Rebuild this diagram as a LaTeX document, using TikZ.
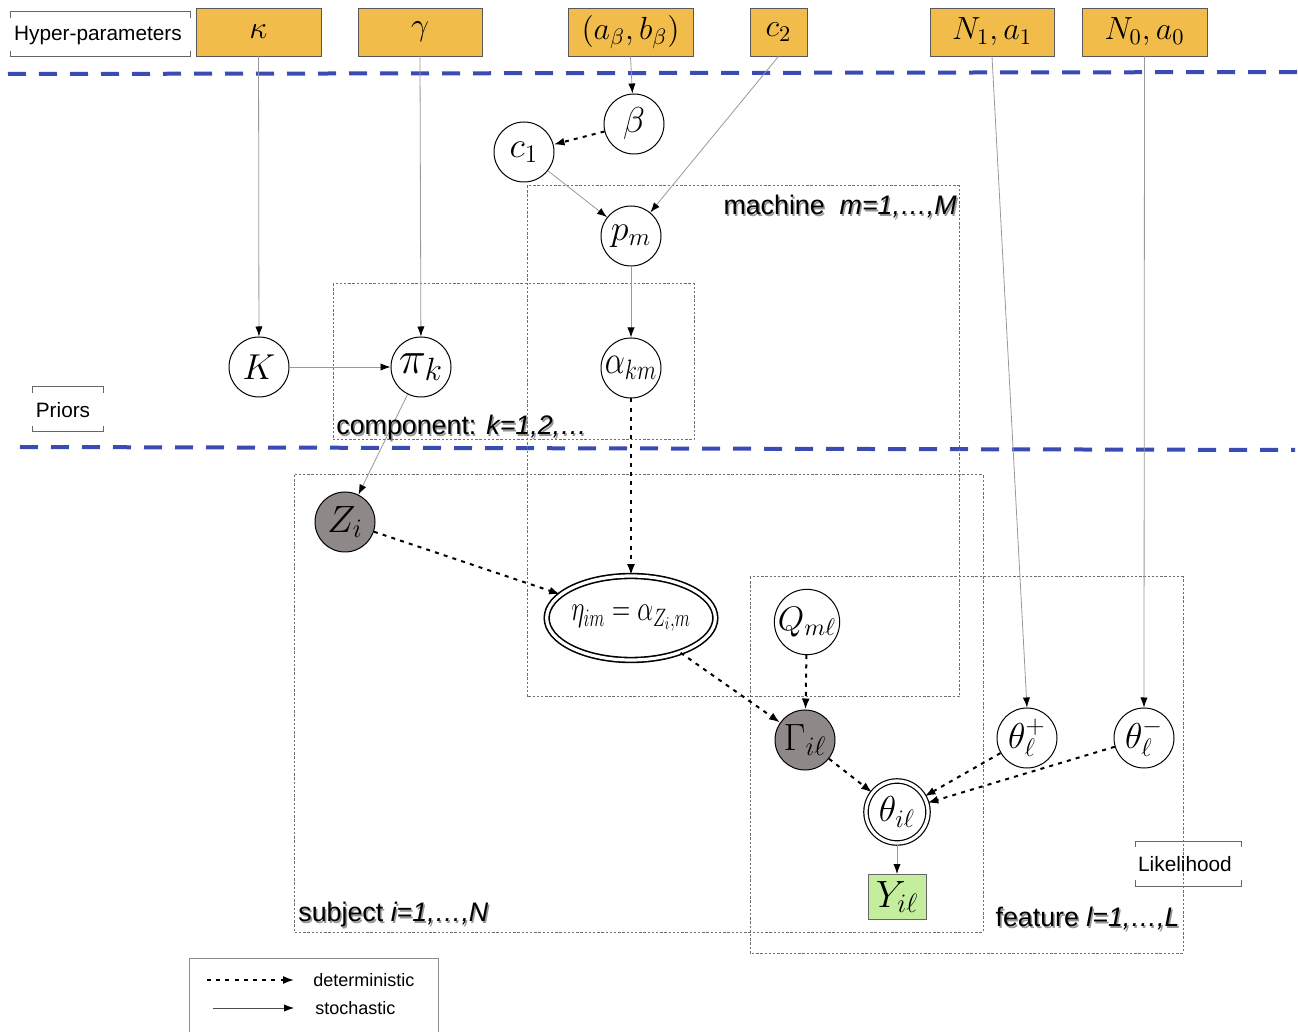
\RequirePackage{fix-cm}
\documentclass[tikz,border=0pt]{standalone}
\usepackage{fontspec}
\newfontfamily\hv{Liberation Sans}
\usetikzlibrary{arrows.meta,shapes.geometric}

\definecolor{hyperfill}{HTML}{F2BC4A}
\definecolor{obsfill}{HTML}{8E8888}
\definecolor{datafill}{HTML}{C4EE9E}
\definecolor{sepblue}{HTML}{3A4CB4}
\definecolor{platecol}{HTML}{707070}

\newcommand{\mfont}[1]{\fontsize{#1}{#1}\selectfont}

\begin{document}
\begin{tikzpicture}[
  x=0.5pt, y=-0.5pt,
  hyperbox/.style={draw=black!65, fill=hyperfill, line width=0.4pt,
    minimum height=24pt, inner sep=0pt, font=\mfont{16}},
  latent/.style={circle, draw, fill=white, line width=0.5pt,
    minimum size=30pt, inner sep=0pt, font=\mfont{18}},
  observed/.style={latent, fill=obsfill},
  detnode/.style={latent, double, double distance=1.6pt, line width=0.6pt},
  datanode/.style={draw=black!60, fill=datafill, line width=0.5pt,
    minimum width=29pt, minimum height=22.5pt, inner sep=0pt, font=\mfont{19}},
  stoch/.style={draw=black!40, line width=0.4pt,
    -{Latex[length=5pt,width=3.6pt,color=black]}},
  determ/.style={draw=black, line width=1pt, dash pattern=on 2pt off 2.6pt,
    -{Latex[length=5.5pt,width=4pt]}},
  plate/.style={draw=platecol, line width=0.5pt, dash pattern=on 1.2pt off 0.9pt},
  platelabel/.style={font=\hv\mfont{13.4}, inner sep=0pt},
  labelshadow/.style={platelabel, text=black!55, opacity=0.75},
  separator/.style={draw=sepblue, line width=2pt, dash pattern=on 9pt off 6.5pt},
  bracketline/.style={draw=black!60, line width=0.5pt},
  sidelabel/.style={font=\hv\mfont{10.4}, inner sep=0pt},
  legendtext/.style={font=\hv\mfont{9}, inner sep=0pt, anchor=west}
]
\fill[white] (0,0) rectangle (1298,1032);
\path[use as bounding box] (0,0) rectangle (1298,1032);

% section separators
\draw[separator] (8,74) -- (1298,72);
\draw[separator] (20,447) -- (1295,450);

% plates
\draw[plate] (333,284) rectangle (694,440);
\draw[plate] (527,186) rectangle (959,697);
\draw[plate] (294,475) rectangle (983,932);
\draw[plate] (750,577) rectangle (1183,953);

% bracketed section labels
\draw[bracketline] (10,18) -- (10,12) -- (190,12) -- (190,18);
\draw[bracketline] (10,51) -- (10,57) -- (190,57) -- (190,51);
\node[sidelabel] (hyperlbl) at (98,36) {Hyper-parameters};
\draw[bracketline] (32,393) -- (32,387) -- (103,387) -- (103,393);
\draw[bracketline] (32,426) -- (32,432) -- (103,432) -- (103,426);
\node[sidelabel] (priorlbl) at (63,410) {Priors};
\draw[bracketline] (1135,847) -- (1135,841) -- (1241,841) -- (1241,847);
\draw[bracketline] (1135,880) -- (1135,886) -- (1241,886) -- (1241,880);
\node[sidelabel] (likelbl) at (1185,864) {Likelihood};

% hyper-parameters
\node[hyperbox, minimum width=62.5pt] (kappa) at (258.5,32) {$\kappa$};
\node[hyperbox, minimum width=62pt] (gammah) at (420,32) {$\gamma$};
\node[hyperbox, minimum width=62.5pt] (abeta) at (630.5,32) {$(a_\beta,b_\beta)$};
\node[hyperbox, minimum width=28.5pt] (ctwo) at (778.5,32) {$c_2$};
\node[hyperbox, minimum width=62pt] (None) at (992,32) {$N_1,a_1$};
\node[hyperbox, minimum width=62.5pt] (Nzero) at (1144.5,32) {$N_0,a_0$};

% latent and derived variables
\node[latent] (beta) at (634,124) {$\beta$};
\node[latent] (cone) at (524,152) {$c_1$};
\node[latent] (pm) at (631,236) {$p_m$};
\node[latent] (K) at (259,367) {$K$};
\node[latent, font=\mfont{23}] (pik) at (421,367) {$\pi_k$};
\node[latent, font=\mfont{20}] (akm) at (631,368) {\scalebox{0.8}[1]{$\alpha_{km}$}};
\node[observed, font=\mfont{19}] (Z) at (345,522) {$Z_i$};
\node[ellipse, draw, fill=white, double, double distance=1.6pt, line width=0.8pt,
      minimum width=81pt, minimum height=42pt, inner sep=0pt, font=\mfont{18}]
      (eta) at (631,618) {\scalebox{0.7}[1]{$\eta_{im}=\alpha_{Z_i,m}$}};
\node[latent, font=\mfont{17}] (Q) at (807,622) {$Q_{m\ell}$};
\node[observed, font=\mfont{19}] (Gam) at (805,740) {$\Gamma_{i\ell}$};
\node[latent] (thp) at (1027,738) {$\theta^+_\ell$};
\node[latent] (thm) at (1144,738) {$\theta^-_\ell$};
\node[detnode, minimum size=31pt] (theta) at (897,812) {$\theta_{i\ell}$};
\node[datanode] (Y) at (897,897) {$Y_{i\ell}$};

% stochastic dependencies
\draw[stoch] (kappa) -- (K);
\draw[stoch] (gammah.south) -- (pik);
\draw[stoch] (abeta.south) -- (beta);
\draw[stoch] (ctwo.south) -- (pm);
\draw[stoch] (None.south) -- (thp.north);
\draw[stoch] (Nzero.south) -- (thm.north);
\draw[stoch] (cone) -- (pm);
\draw[stoch] (pm) -- (akm);
\draw[stoch] (K) -- (pik);
\draw[stoch] (pik) -- (Z);
\draw[stoch] (theta) -- (Y);

% deterministic dependencies
\draw[determ] (beta) -- (cone);
\draw[determ] (akm) -- (eta);
\draw[determ] (Z) -- (eta);
\draw[determ] (eta) -- (Gam);
\draw[determ] (Q) -- (Gam);
\draw[determ] (Gam) -- (theta);
\draw[determ] (thp) -- (theta);
\draw[determ] (thm) -- (theta);

% plate labels
\node[labelshadow, anchor=west] (compsh) at (337.5,430) {component: \textit{k=1,2,…}};
\node[platelabel, anchor=west] (complbl) at (336,428) {component: \textit{k=1,2,…}};
\node[labelshadow, anchor=east] (machsh) at (958.5,209) {machine\ \ \textit{m=1,…,M}};
\node[platelabel, anchor=east] (machlbl) at (957,207) {machine\ \ \textit{m=1,…,M}};
\node[labelshadow, anchor=west] (subjsh) at (299.5,917) {subject \textit{i=1,…,N}};
\node[platelabel, anchor=west] (subjlbl) at (298,915) {subject \textit{i=1,…,N}};
\node[labelshadow, anchor=east] (featsh) at (1181.5,921) {feature \textit{l=1,…,L}};
\node[platelabel, anchor=east] (featlbl) at (1180,919) {feature \textit{l=1,…,L}};

% legend
\draw[draw=black!45, line width=0.5pt] (189,958) rectangle (438,1045);
\coordinate (ldA) at (207,980);
\coordinate (ldB) at (294,980);
\coordinate (lsA) at (213,1008);
\coordinate (lsB) at (294,1008);
\draw[determ, line width=0.8pt] (ldA) -- (ldB);
\draw[stoch, draw=black!70] (lsA) -- (lsB);
\node[legendtext] (ldtext) at (313,980) {deterministic};
\node[legendtext] (lstext) at (315,1008) {stochastic};
\end{tikzpicture}
\end{document}
